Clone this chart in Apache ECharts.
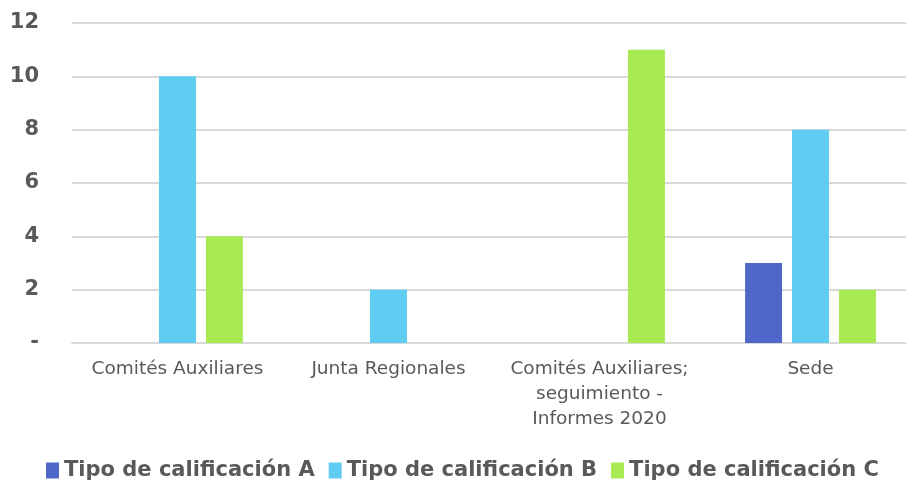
<!DOCTYPE html>
<html>
<head>
<meta charset="utf-8">
<script src="https://cdn.jsdelivr.net/npm/echarts@6/dist/echarts.min.js"></script>
<style>
  html, body { margin: 0; padding: 0; background: #fff; overflow: hidden; }
  /* plot area runs a little past the right edge, as in the original */
  #chart { width: 916px; height: 482px; }
</style>
</head>
<body>
<div id="chart"></div>
<script>
const categories = ['Comités Auxiliares', 'Junta Regionales', 'Comités Auxiliares;\nseguimiento -\nInformes 2020', 'Sede'];
const seriesNames = ['Tipo de calificación A', 'Tipo de calificación B', 'Tipo de calificación C'];
const valuesA = [null, null, null, 3];
const valuesB = [10, 2, null, 8];
const valuesC = [4, null, 11, 2];
const colors = ['#4F67C8', '#5FCDF2', '#A8EA52'];

const font = 'DejaVu Sans';
const chart = echarts.init(document.getElementById('chart'));

const makeSeries = (name, data, i) => ({
  name: name,
  type: 'bar',
  data: data,
  barGap: '27%',
  barCategoryGap: '38%',
  itemStyle: { color: colors[i] }
});

chart.setOption({
  animation: false,
  color: colors,
  grid: { left: 72, right: 0, top: 23, bottom: 139, containLabel: false },
  legend: {
    top: 460,
    left: 46,
    padding: 0,
    itemWidth: 13,
    itemHeight: 16,
    itemGap: 14,
    icon: 'rect',
    textStyle: { color: '#595959', fontSize: 21, fontWeight: 'bold', fontFamily: font }
  },
  xAxis: {
    type: 'category',
    data: categories,
    axisLine: { show: true, lineStyle: { color: '#d9d9d9', width: 2 } },
    axisTick: { show: false },
    axisLabel: {
      color: '#595959', fontSize: 18.5, fontFamily: font, margin: 14,
      lineHeight: 25, interval: 0
    }
  },
  yAxis: {
    type: 'value',
    min: 0,
    max: 12,
    interval: 2,
    axisLine: { show: false },
    axisTick: { show: false },
    splitLine: { lineStyle: { color: '#d9d9d9', width: 2 } },
    axisLabel: {
      color: '#595959', fontSize: 21, fontWeight: 'bold', fontFamily: font, margin: 33,
      formatter: v => (v === 0 ? '-' : String(v))
    }
  },
  series: [
    makeSeries(seriesNames[0], valuesA, 0),
    makeSeries(seriesNames[1], valuesB, 1),
    makeSeries(seriesNames[2], valuesC, 2)
  ]
});
</script>
</body>
</html>
